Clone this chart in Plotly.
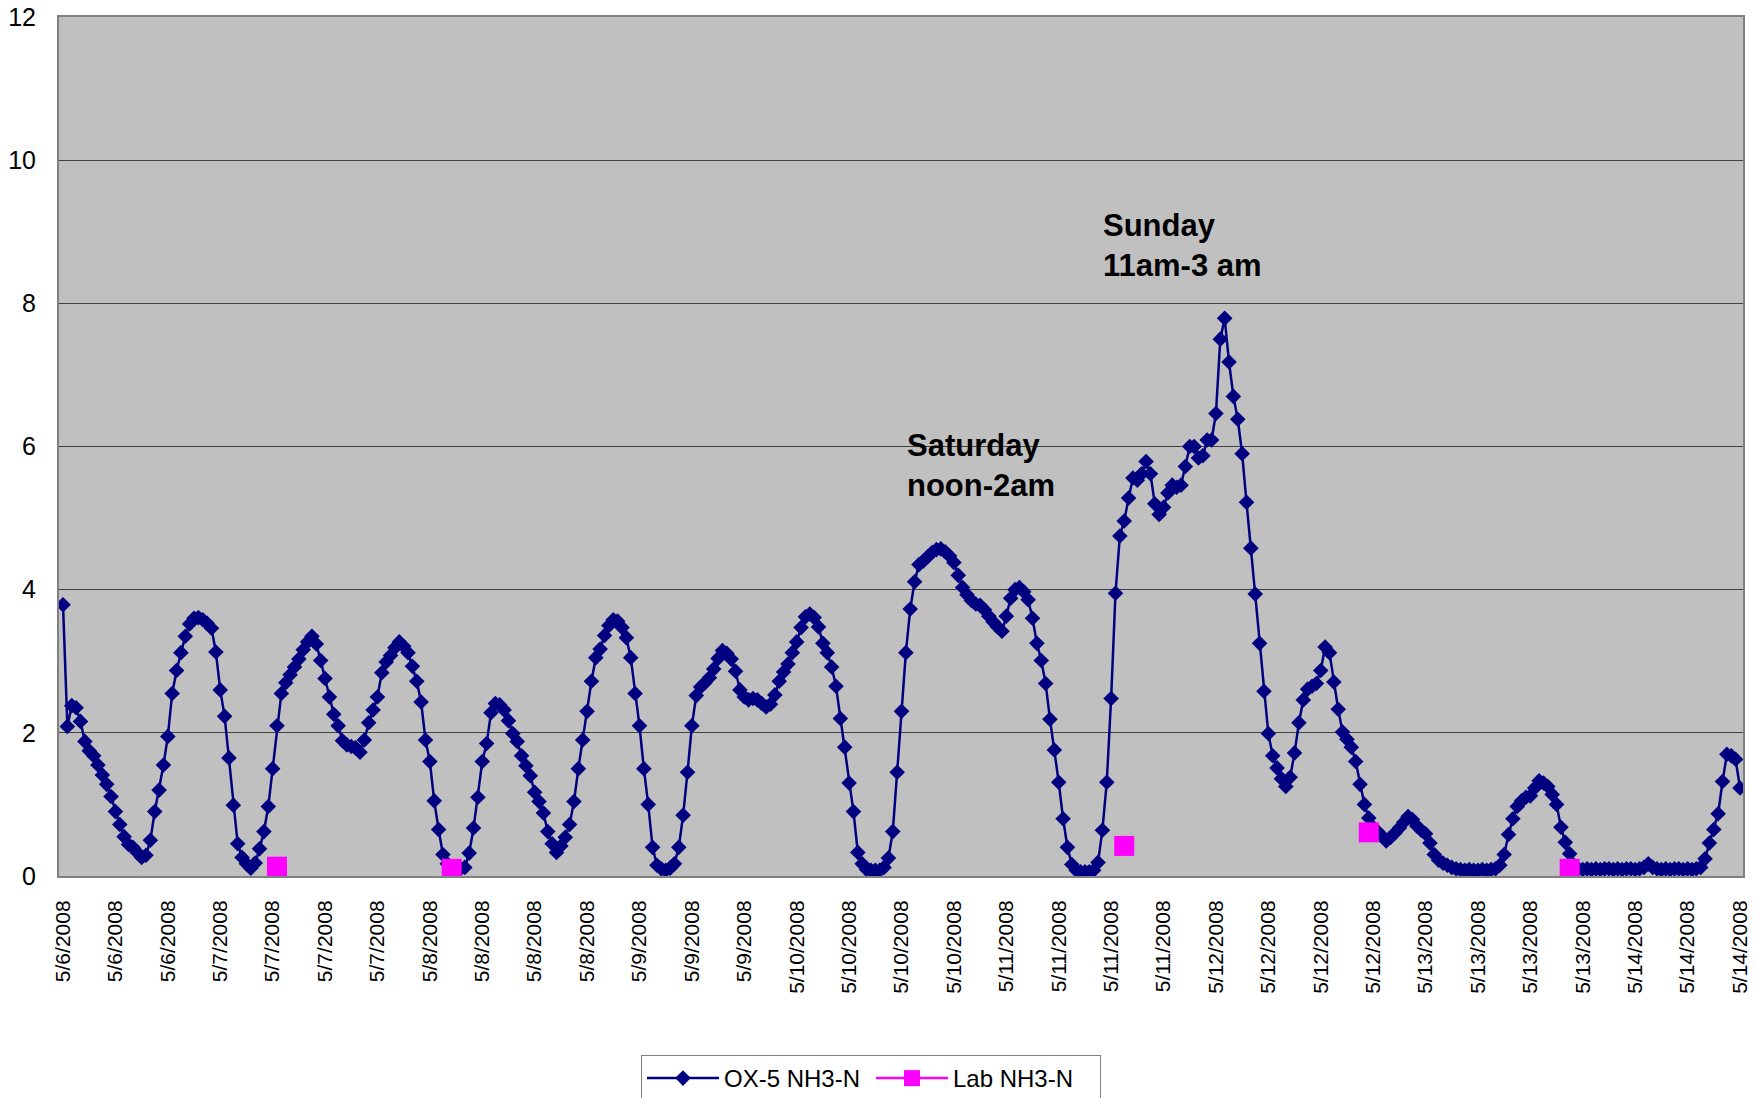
import plotly.graph_objects as go

# OX-5 NH3-N online analyser readings (mg/L) in order
ox5_may06_08 = [
    3.79, 2.09, 2.38, 2.35, 2.16, 1.88, 1.75, 1.68, 1.55, 1.41,
    1.28, 1.11, 0.90, 0.72, 0.55, 0.44, 0.40, 0.33, 0.26, 0.29,
    0.50, 0.90, 1.20, 1.55, 1.95, 2.55, 2.87, 3.12, 3.35, 3.52,
    3.60, 3.61, 3.58, 3.53, 3.46, 3.13, 2.60, 2.23, 1.65, 0.99,
    0.45, 0.26, 0.17, 0.11, 0.18, 0.38, 0.62, 0.97, 1.50, 2.10,
    2.55, 2.70, 2.81, 2.92, 3.03, 3.16, 3.27, 3.35, 3.24, 3.01,
    2.76, 2.50, 2.26, 2.10, 1.89, 1.83, 1.81, 1.79, 1.73, 1.90,
    2.14, 2.32, 2.50, 2.84, 2.99, 3.08, 3.19, 3.27, 3.21, 3.12,
    2.93, 2.72, 2.43, 1.90, 1.60, 1.05, 0.65, 0.30, 0.17, 0.11,
    0.11, 0.10, 0.12, 0.32, 0.67, 1.10,
]
ox5_may08_10 = [
    1.60, 1.85, 2.28, 2.41, 2.39, 2.32, 2.17, 1.99, 1.88, 1.68,
    1.54, 1.40, 1.17, 1.04, 0.88, 0.62, 0.45, 0.33, 0.42, 0.54,
    0.72, 1.04, 1.50, 1.90, 2.30, 2.72, 3.05, 3.17, 3.36, 3.50,
    3.58, 3.56, 3.47, 3.33, 3.05, 2.55, 2.10, 1.50, 1.00, 0.40,
    0.15, 0.10, 0.08, 0.11, 0.17, 0.40, 0.85, 1.45, 2.10, 2.52,
    2.64, 2.70, 2.77, 2.89, 3.04, 3.15, 3.11, 3.03, 2.86, 2.60,
    2.50, 2.46, 2.48, 2.46, 2.41, 2.36, 2.40, 2.53, 2.72, 2.85,
    2.96, 3.12, 3.27, 3.47, 3.62, 3.66, 3.61, 3.48, 3.25, 3.12,
    2.92, 2.65, 2.20, 1.80, 1.30, 0.90, 0.33, 0.17, 0.09, 0.08,
    0.08, 0.08, 0.12, 0.25, 0.62, 1.45,
]
ox5_may10_12 = [
    2.30, 3.12, 3.73, 4.11, 4.35, 4.40, 4.46, 4.52, 4.56, 4.57,
    4.53, 4.47, 4.38, 4.20, 4.03, 3.93, 3.85, 3.80, 3.78, 3.72,
    3.63, 3.55, 3.48, 3.42, 3.63, 3.88, 4.00, 4.03, 3.97, 3.86,
    3.60, 3.25, 3.01, 2.69, 2.19, 1.76, 1.31, 0.80, 0.40, 0.16,
    0.08, 0.06, 0.06, 0.06, 0.08, 0.19, 0.64, 1.31, 2.48, 3.95,
    4.75, 4.96, 5.28, 5.56, 5.53, 5.62, 5.79, 5.62, 5.20, 5.05,
    5.15, 5.35, 5.46, 5.43, 5.46, 5.72, 6.00, 6.00, 5.84, 5.87,
    6.09, 6.09, 6.46, 7.50, 7.79, 7.18, 6.70, 6.38, 5.90, 5.22,
    4.58, 3.94, 3.25, 2.58, 1.99, 1.68, 1.51, 1.36, 1.25, 1.38,
    1.72, 2.14, 2.46, 2.61, 2.65, 2.69,
]
ox5_may12_14 = [
    2.87, 3.20, 3.12, 2.71, 2.33, 2.01, 1.91, 1.80, 1.60, 1.28,
    1.00, 0.81, 0.68, 0.62, 0.56, 0.49, 0.54, 0.60, 0.67, 0.75,
    0.83, 0.79, 0.70, 0.64, 0.59, 0.46, 0.30, 0.22, 0.18, 0.15,
    0.12, 0.10, 0.09, 0.08, 0.09, 0.08, 0.08, 0.09, 0.08, 0.09,
    0.10, 0.15, 0.30, 0.58, 0.80, 0.97, 1.05, 1.10, 1.12, 1.23,
    1.33, 1.30, 1.25, 1.14, 1.00, 0.68, 0.47, 0.31, 0.15, 0.10,
    0.09, 0.10, 0.09, 0.10, 0.09, 0.10, 0.10, 0.09, 0.10, 0.09,
    0.10, 0.10, 0.09, 0.10, 0.12, 0.17, 0.12, 0.10, 0.09, 0.10,
    0.09, 0.10, 0.10, 0.09, 0.10, 0.09, 0.10, 0.12, 0.24, 0.46,
    0.65, 0.87, 1.32, 1.70, 1.68, 1.63, 1.23,
]

# grab samples from the lab (reading number, value)
lab_reading = [49, 89, 243, 299, 345]
lab_nh3 = [0.13, 0.10, 0.42, 0.61, 0.10]

# category labels shown on the axis, one every 12 readings
tick_labels = [
    "5/6/2008", "5/6/2008", "5/6/2008",
    "5/7/2008", "5/7/2008", "5/7/2008", "5/7/2008",
    "5/8/2008", "5/8/2008", "5/8/2008", "5/8/2008",
    "5/9/2008", "5/9/2008", "5/9/2008",
    "5/10/2008", "5/10/2008", "5/10/2008", "5/10/2008",
    "5/11/2008", "5/11/2008", "5/11/2008", "5/11/2008",
    "5/12/2008", "5/12/2008", "5/12/2008", "5/12/2008",
    "5/13/2008", "5/13/2008", "5/13/2008", "5/13/2008",
    "5/14/2008", "5/14/2008", "5/14/2008",
]

ox5 = ox5_may06_08 + ox5_may08_10 + ox5_may10_12 + ox5_may12_14
n = len(ox5)
idx = list(range(n))
step = (n - 1) / (len(tick_labels) - 1)

# lab values on the same reading axis, gaps elsewhere so no line is drawn
lab_full = [None] * n
for r, v in zip(lab_reading, lab_nh3):
    lab_full[r] = v

FONT = "Liberation Sans, Arial, sans-serif"

fig = go.Figure()
fig.add_trace(go.Scatter(
    x=idx, y=ox5, name="OX-5 NH3-N", mode="lines+markers",
    line=dict(color="#000080", width=2.5),
    marker=dict(symbol="diamond", size=12, color="#000080"),
))
fig.add_trace(go.Scatter(
    x=idx, y=lab_full, name="Lab NH3-N", mode="lines+markers",
    connectgaps=False,
    line=dict(color="#FF00FF", width=2.5),
    marker=dict(symbol="square", size=20, color="#FF00FF"),
))

fig.update_xaxes(
    range=[-0.92, n - 1 + 0.69],
    tickmode="array",
    tickvals=[i * step for i in range(len(tick_labels))],
    ticktext=tick_labels,
    tickangle=-90,
    tickfont=dict(size=21, family=FONT, color="black"),
    ticks="", ticklabelstandoff=14,
    showgrid=False, zeroline=False,
    showline=True, linecolor="#808080", linewidth=2, mirror=True,
)
fig.update_yaxes(
    range=[0, 12], tick0=0, dtick=2,
    tickfont=dict(size=25, family=FONT, color="black"),
    ticks="", ticklabelstandoff=16, ticklabeloverflow="allow",
    showgrid=True, gridcolor="#404040", gridwidth=1,
    zeroline=True, zerolinecolor="#000000", zerolinewidth=2,
    showline=True, linecolor="#808080", linewidth=2, mirror=True,
)

fig.add_annotation(
    x=192.8, y=6.29, xref="x", yref="y", xanchor="left", yanchor="top",
    align="left", showarrow=False,
    text="<b>Saturday<br>noon-2am</b>",
    font=dict(size=31, family=FONT, color="black"),
)
fig.add_annotation(
    x=237.6, y=9.36, xref="x", yref="y", xanchor="left", yanchor="top",
    align="left", showarrow=False,
    text="<b>Sunday<br>11am-3 am</b>",
    font=dict(size=31, family=FONT, color="black"),
)

fig.update_layout(
    width=1750, height=1090,
    margin=dict(l=51, r=15, t=9, b=222, autoexpand=False),
    paper_bgcolor="white", plot_bgcolor="#C0C0C0",
    font=dict(family=FONT, color="black"),
    showlegend=True,
    legend=dict(
        orientation="h", x=0.3456, xanchor="left", y=-0.2084, yanchor="top",
        bgcolor="white", bordercolor="#808080", borderwidth=1,
        font=dict(size=24, family=FONT, color="black"),
        itemwidth=72, entrywidth=142, entrywidthmode="pixels",
        traceorder="normal",
    ),
    hovermode=False,
)

fig.write_html("out.html")
